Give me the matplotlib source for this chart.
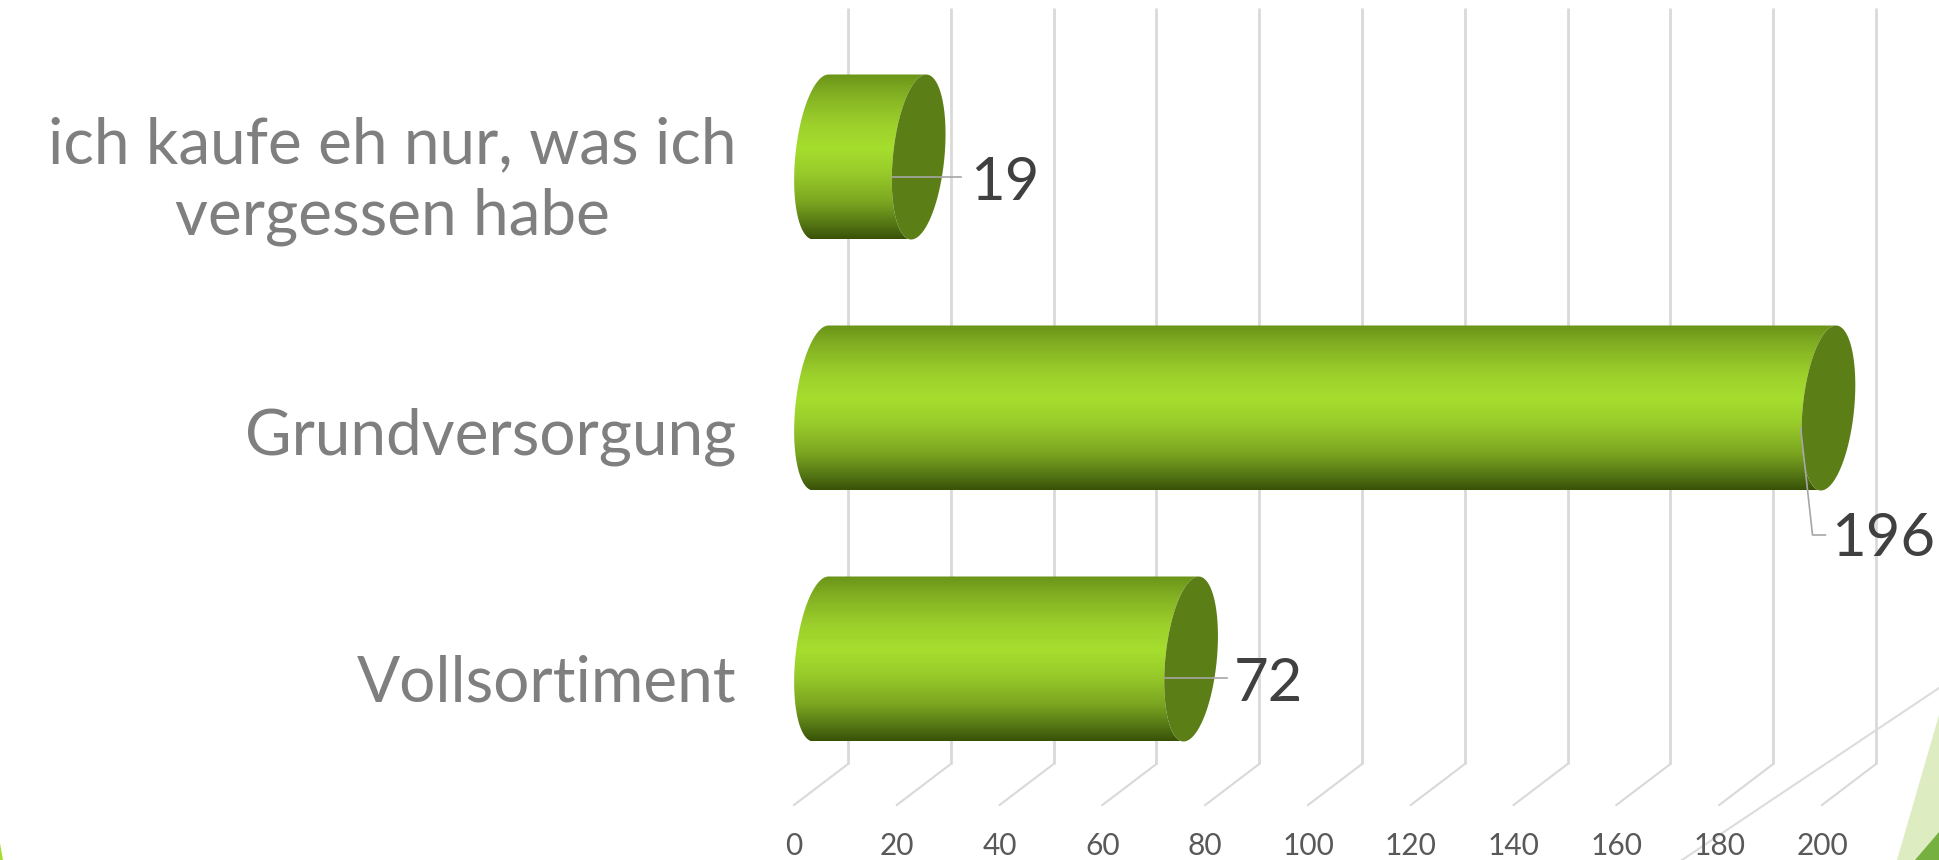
import numpy as np
import matplotlib.pyplot as plt
from matplotlib.colors import LinearSegmentedColormap
from matplotlib.patches import PathPatch, Polygon
from matplotlib.path import Path

plt.rcParams['font.family'] = ['Lato', 'DejaVu Sans']

# Chart data (bottom to top)
categories = ['Vollsortiment', 'Grundversorgung', 'ich kaufe eh nur, was ich\nvergessen habe']
values = [72, 196, 19]
x_ticks = list(range(0, 201, 20))

W, H = 1939, 860
PX_PER_UNIT = 5.14
PX_PER_CAT = 251
X0_PX = 821      # value 0 in the middle plane of the bars
Y0_PX = 659      # first category
DEPTH = 27 / PX_PER_UNIT   # half depth of the fake 3d floor
RX = 25.8 / PX_PER_UNIT    # end cap radius
SHEAR = 7.5 / PX_PER_UNIT
RY = 82.5 / PX_PER_CAT

fig = plt.figure(figsize=(W / 100, H / 100), dpi=100, facecolor='white')
ax = fig.add_axes([0, 0, 1, 1])
xlim = (-X0_PX / PX_PER_UNIT, (W - X0_PX) / PX_PER_UNIT)
ylim = ((Y0_PX - H) / PX_PER_CAT, Y0_PX / PX_PER_CAT)
ax.axis('off')


def y_from_px(py):
    return (Y0_PX - py) / PX_PER_CAT


# Back wall gridlines and the floor lines
grid_col = '#d9d9d9'
floor_y = y_from_px(764)
front_y = y_from_px(805)
for t in x_ticks:
    ax.plot([t + DEPTH, t + DEPTH], [y_from_px(8), floor_y], color=grid_col, lw=2.0, solid_capstyle='butt')
    ax.plot([t + DEPTH, t - DEPTH], [floor_y, front_y], color=grid_col, lw=1.5)
    ax.text(t - DEPTH, y_from_px(846), str(t), color='#595959', fontsize=21.5, ha='center', va='center')

# Vertical gradient of the cylinders
stops = [(0.0, '#6a9419'), (0.12, '#82b022'), (0.3, '#9cd02b'), (0.45, '#a6de2e'),
         (0.6, '#98cb2a'), (0.78, '#7ba520'), (0.92, '#517213'), (1.0, '#3a5208')]
cyl_cmap = LinearSegmentedColormap.from_list('cyl', stops)
grad = np.linspace(0, 1, 256).reshape(-1, 1)
t_vals = np.linspace(0, 2 * np.pi, 121)
half = np.linspace(np.pi / 2, 3 * np.pi / 2, 61)


def ring(cx, cy, t):
    return cx + RX * np.cos(t) + SHEAR * np.sin(t), cy + RY * np.sin(t)


for i, v in enumerate(values):
    # body: left half of the start cap, then back up the left half of the end cap
    lx, ly = ring(0, i, half)
    rx, ry = ring(v, i, half[::-1])
    body = PathPatch(Path(np.column_stack([np.concatenate([lx, rx]), np.concatenate([ly, ry])])),
                     facecolor='none', edgecolor='none')
    ax.add_patch(body)
    im = ax.imshow(grad, cmap=cyl_cmap, aspect='auto', vmin=0, vmax=1, origin='upper',
                   extent=(-RX * 2, v + RX * 2, i - RY, i + RY), zorder=3, interpolation='bilinear')
    im.set_clip_path(body)
    cx, cy = ring(v, i, t_vals)
    ax.fill(cx, cy, color='#5c7e16', zorder=4, lw=0)

# Data labels and their leader lines
leader_col = '#a6a6a6'
label_col = '#404040'
for i, v in enumerate(values):
    if v == 196:
        lx = [v - 5.4, v - 3.1, v - 0.6]
        ly = [i - 0.08, y_from_px(535), y_from_px(535)]
        tx, ty = v + 10.6, y_from_px(539)
    elif v == 72:
        lx = [v - RX - 0.1, v + 7.0]
        ly = [y_from_px(678), y_from_px(678)]
        tx, ty = v + 15.0, y_from_px(684)
    else:
        lx = [v - RX - 0.1, v + 8.3]
        ly = [y_from_px(177), y_from_px(177)]
        tx, ty = v + 16.7, y_from_px(183)
    ax.plot(lx, ly, color=leader_col, lw=1.2, zorder=5)
    ax.text(tx, ty, str(v), color=label_col, fontsize=43, ha='center', va='center', zorder=6)

# Category labels
label_shift = [25, 29, 24]
for i, c in enumerate(categories):
    ax.text(-16.5, i - label_shift[i] / PX_PER_CAT, c, color='#7f7f7f', fontsize=46, ha='right', va='center',
            multialignment='center', linespacing=1.27)

ax.set_xlim(xlim)
ax.set_ylim(ylim)

# Slide decoration in the corners, in pixel-like axes fractions
tr = ax.transAxes
ax.plot([1939 / W, 1682 / W], [1 - 688 / H, 0], color='#dcdcdc', lw=1.5, transform=tr, zorder=2)
ax.add_patch(Polygon([(1, 1 - 715 / H), (1, 0), (1897 / W, 0)], closed=True, transform=tr, facecolor='#deecc2', lw=0))
ax.add_patch(Polygon([(1, 1 - 832 / H), (1, 0), (1915 / W, 0)], closed=True, transform=tr, facecolor='#76b041', lw=0))
ax.add_patch(Polygon([(0, 1 - 843 / H), (3 / W, 0), (0, 0)], closed=True, transform=tr, facecolor='#a6de2e', lw=0))

fig.savefig('out.png', dpi=100)
